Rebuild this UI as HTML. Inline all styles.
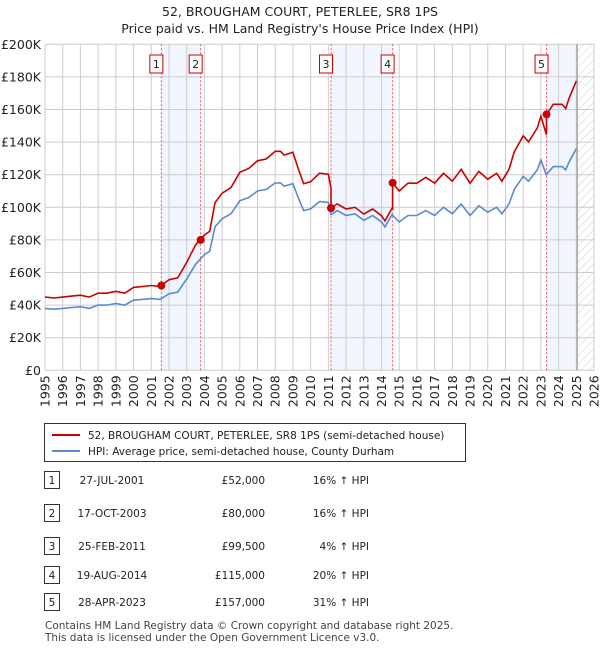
<!DOCTYPE html>
<html><head><meta charset="utf-8"><style>
body{margin:0;background:#fff;font-family:"Liberation Sans","DejaVu Sans",sans-serif;}
svg text{font-family:"DejaVu Sans","Liberation Sans",sans-serif;}
</style></head><body>
<svg id="c" width="600" height="650" xmlns="http://www.w3.org/2000/svg">
<defs><pattern id="hatch" width="6" height="6" patternUnits="userSpaceOnUse" patternTransform="rotate(45)"><line x1="0" y1="0" x2="0" y2="6" stroke="#ccc" stroke-width="1"/></pattern></defs>
<text x="300" y="16" text-anchor="middle" font-size="12.5" fill="#222">52, BROUGHAM COURT, PETERLEE, SR8 1PS</text>
<text x="300" y="33" text-anchor="middle" font-size="12.5" fill="#222">Price paid vs. HM Land Registry's House Price Index (HPI)</text>
<g id="plot"></g>
<g>
<rect x="44.5" y="423.5" width="421" height="38" fill="#fff" stroke="#333"/>
<line x1="52" y1="435" x2="80" y2="435" stroke="#cc0000" stroke-width="2"/>
<text x="88" y="439" font-size="10.5" fill="#222">52, BROUGHAM COURT, PETERLEE, SR8 1PS (semi-detached house)</text>
<line x1="52" y1="451" x2="80" y2="451" stroke="#5b8ad0" stroke-width="2"/>
<text x="88" y="455" font-size="10.5" fill="#222">HPI: Average price, semi-detached house, County Durham</text>
</g>
<g id="table" font-size="10.5" fill="#222"></g>
<text x="45" y="629" font-size="10.5" fill="#444">Contains HM Land Registry data © Crown copyright and database right 2025.</text>
<text x="45" y="641" font-size="10.5" fill="#444">This data is licensed under the Open Government Licence v3.0.</text>
</svg>
<script>
const hpiYears=[1995,1995.5,1996,1996.5,1997,1997.5,1998,1998.5,1999,1999.5,2000,2000.5,2001,2001.5,2002,2002.5,2003,2003.5,2004,2004.3,2004.6,2005,2005.5,2006,2006.5,2007,2007.5,2008,2008.3,2008.5,2009,2009.3,2009.6,2010,2010.5,2011,2011.15,2011.5,2012,2012.5,2013,2013.5,2014,2014.2,2014.6,2015,2015.5,2016,2016.5,2017,2017.5,2018,2018.5,2019,2019.5,2020,2020.5,2020.8,2021.2,2021.5,2022,2022.3,2022.8,2023,2023.3,2023.7,2024.2,2024.4,2024.6,2025];
const hpiValues=[38,37.5,38,38.5,39,38,40,40,41,40,43,43.5,44,43.5,47,48,56,65,71,73,88,93,96,104,106,110,111,115,115,113,114.5,106,98,99,103.5,103,95.5,98,95,96,92,95,91,88,95.5,91,95,95,98,95,100,96,102,95,101,97,100,96,102,111,119,116,123,129,120,125,125,123,128,136];
const saleLabels=["1","2","3","4","5"];
const saleYears=[2001.57,2003.79,2011.15,2014.63,2023.32];
const salePrices=[52,80,99.5,115,157];
const saleDates=["27-JUL-2001","17-OCT-2003","25-FEB-2011","19-AUG-2014","28-APR-2023"];
const salePriceText=["£52,000","£80,000","£99,500","£115,000","£157,000"];
const saleHpiText=["16% ↑ HPI","16% ↑ HPI","4% ↑ HPI","20% ↑ HPI","31% ↑ HPI"];
const yTicks=[0,20,40,60,80,100,120,140,160,180,200];
const yTickLabels=["£0","£20K","£40K","£60K","£80K","£100K","£120K","£140K","£160K","£180K","£200K"];
const xTicks=[1995,1996,1997,1998,1999,2000,2001,2002,2003,2004,2005,2006,2007,2008,2009,2010,2011,2012,2013,2014,2015,2016,2017,2018,2019,2020,2021,2022,2023,2024,2025,2026];

const X0=45,X1=594,Y0=370.3,Y1=44.3;
const xs=y=>X0+(y-1995)/(2026-1995)*(X1-X0);
const ys=v=>Y0-v/200*(Y0-Y1);
const NS="http://www.w3.org/2000/svg";
function mk(tag,attrs,parent){const e=document.createElementNS(NS,tag);for(const k in attrs)e.setAttribute(k,attrs[k]);parent.appendChild(e);return e;}
const g=document.getElementById('plot');
function hpiAt(t){for(let i=0;i<hpiYears.length-1;i++){if(t>=hpiYears[i]&&t<=hpiYears[i+1]){const f=(t-hpiYears[i])/(hpiYears[i+1]-hpiYears[i]);return hpiValues[i]+f*(hpiValues[i+1]-hpiValues[i]);}}return hpiValues[hpiValues.length-1];}
// shaded spans
const spans=[[0,1],[2,3],[4,null]];
spans.forEach(s=>{const a=xs(saleYears[s[0]]);const b=s[1]===null?xs(2025.05):xs(saleYears[s[1]]);
const r=mk('rect',{x:a,y:Y1,width:b-a,height:Y0-Y1,fill:'#eef3fd',opacity:0.8},g);

});
// hatch
const hx=xs(2025.05);
const h=mk('rect',{x:hx,y:Y1,width:X1-hx,height:Y0-Y1,fill:'url(#hatch)'},g);


// grid
yTicks.forEach((v,i)=>{const l=mk('line',{x1:X0,x2:X1,y1:ys(v),y2:ys(v),stroke:'#cccccc','stroke-width':1},g);


const t=mk('text',{x:X0-4,y:ys(v)+4.5,'text-anchor':'end','font-size':12.5,fill:'#222'},g);t.textContent=yTickLabels[i];

});
xTicks.forEach(yr=>{const l=mk('line',{x1:xs(yr),x2:xs(yr),y1:Y1,y2:Y0,stroke:'#cccccc','stroke-width':1},g);


const t=mk('text',{x:0,y:0,'text-anchor':'end','font-size':12.5,fill:'#222',transform:`translate(${xs(yr)+4.5},${Y0+5}) rotate(-90)`},g);t.textContent=yr;

});
const vb=mk('line',{x1:hx,x2:hx,y1:Y1,y2:Y0,stroke:'#999','stroke-width':1.2},g);


// sale vlines + labels
saleYears.forEach((sy,i)=>{const x=xs(sy);
const l=mk('line',{x1:x,x2:x,y1:Y1,y2:Y0,stroke:'#ee5555','stroke-width':1,'stroke-dasharray':'2,2'},g);


const r=mk('rect',{x:x-11.5,y:55,width:13,height:18,fill:'#fff',stroke:'#cc0000'},g);


const t=mk('text',{x:x-5,y:68,'text-anchor':'middle','font-size':11,fill:'#222'},g);t.textContent=saleLabels[i];

});
// hpi line
const bp=hpiYears.map((yr,i)=>`${xs(yr).toFixed(1)},${ys(hpiValues[i]).toFixed(1)}`).join(' ');
const bl=mk('polyline',{points:bp,fill:'none',stroke:'#5b8ad0','stroke-width':1.6},g);


// red line: HPI indexed to most recent sale
function ratioAt(t){let k=0;for(let i=0;i<saleYears.length;i++)if(t>=saleYears[i])k=i;return salePrices[k]/hpiAt(saleYears[k]);}
const pts=[];
for(let i=0;i<hpiYears.length;i++){
  const t=hpiYears[i];
  for(let j=0;j<saleYears.length;j++){if(i>0&&saleYears[j]>hpiYears[i-1]&&saleYears[j]<=t){const s=saleYears[j];const prev=j>0?salePrices[j-1]/hpiAt(saleYears[j-1]):salePrices[0]/hpiAt(saleYears[0]);pts.push([s,hpiAt(s)*prev]);pts.push([s,salePrices[j]]);}}
  pts.push([t,hpiValues[i]*ratioAt(t)]);
}
const rp=pts.map(p=>`${xs(p[0]).toFixed(1)},${ys(p[1]).toFixed(1)}`).join(' ');
const rl=mk('polyline',{points:rp,fill:'none',stroke:'#cc0000','stroke-width':1.6},g);


saleYears.forEach((sy,i)=>{const c=mk('circle',{cx:xs(sy),cy:ys(salePrices[i]),r:4,fill:'#cc0000'},g);

});
// table
const tb=document.getElementById('table');
const rowY=[482,515,548,577,604];
rowY.forEach((y,i)=>{
const r=mk('rect',{x:44.5,y:y-10.5,width:15,height:17,fill:'#fff',stroke:'#333'},tb);


const n=mk('text',{x:52,y:y+2,'text-anchor':'middle'},tb);n.textContent=saleLabels[i];


const d=mk('text',{x:112,y:y+2,'text-anchor':'middle'},tb);d.textContent=saleDates[i];


const p=mk('text',{x:265,y:y+2,'text-anchor':'end'},tb);p.textContent=salePriceText[i];


const hh=mk('text',{x:369,y:y+2,'text-anchor':'end'},tb);hh.textContent=saleHpiText[i];

});
</script>
</body></html>
